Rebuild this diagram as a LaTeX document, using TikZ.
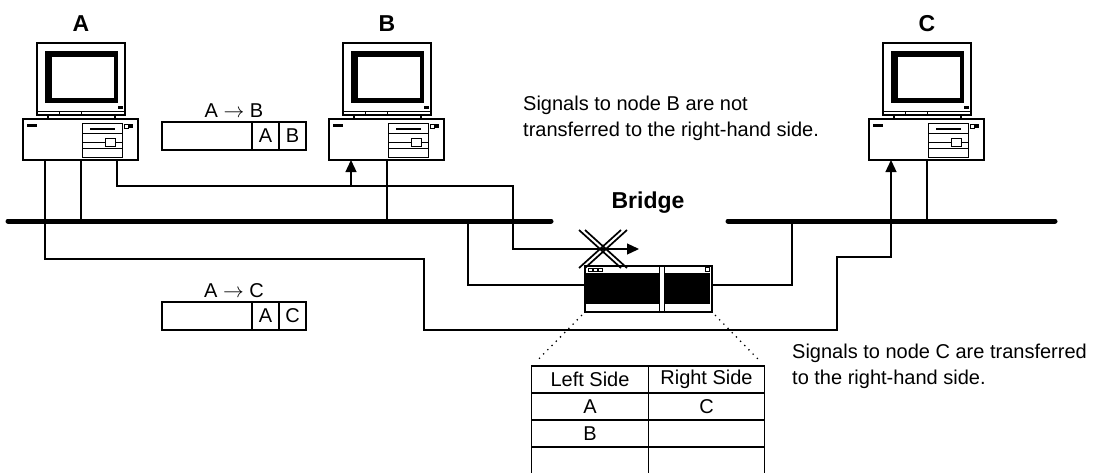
\documentclass[tikz,border=0pt]{standalone}
\usepackage{fontspec}
\setmainfont{Liberation Sans}
\usetikzlibrary{arrows.meta, positioning, calc}

% desktop computer: base unit with a monitor on top, origin at the base's top left
\tikzset{
  pc/.pic={
    \draw[line width=1.1pt] (0,0) rectangle (115,41);
    \fill (4,5) rectangle (14,8);
    \draw[line width=0.8pt] (59,4) rectangle (99,38);
    \draw[line width=0.8pt] (59,14) -- (99,14) (59,23) -- (99,23) (59,29) -- (99,29);
    \fill (67,9) rectangle (92,11);
    \draw[line width=0.8pt, fill=white] (82,19) rectangle (92,27);
    \draw[line width=0.8pt] (101,5) rectangle (105,9);
    \fill (106,5) rectangle (110,9);
    \draw[line width=1.1pt] (14,-76) rectangle (102,-4);
    \draw[line width=0.8pt] (14,-8) -- (102,-8) (36,-8) -- (36,-4) (58,-8) -- (58,-4);
    \draw[line width=1.1pt] (25,-4) -- (25,0) (92,-4) -- (92,0);
    \fill (22,-68) rectangle (95,-16);
    \fill[white] (29,-62) rectangle (91,-21);
    \fill (95,-13) rectangle (100,-10);
    \coordinate (-p1) at (22,41);
    \coordinate (-p2) at (58,41);
    \coordinate (-p3) at (94,41);
    \coordinate (-top) at (58,-76);
  },
}

\begin{document}
\begin{tikzpicture}[x=1pt, y=-1pt, >={Triangle[length=12pt,width=11pt]},
  every node/.style={font=\fontsize{20}{24}\selectfont},
  wire/.style={line width=1.3pt},
  bus/.style={line width=5pt, line cap=round},
  lbl/.style={font=\fontsize{23}{26}\selectfont\bfseries},
  pkt/.style={draw, line width=1.2pt, minimum height=28pt, inner sep=0pt, outer sep=0pt},
  cell/.style={draw, line width=1.2pt, minimum width=116.5pt, minimum height=27pt, inner sep=0pt, outer sep=0pt},
  note/.style={align=left, anchor=west, inner sep=0pt, font=\fontsize{20}{26}\selectfont},
  dots/.style={line width=1.8pt, line cap=round, dash pattern=on 0pt off 6pt}]
\useasboundingbox (0,0) rectangle (1095,472);

% the three stations
\pic (pcA) at (23,119) {pc};
\pic (pcB) at (329,119) {pc};
\pic (pcC) at (869,119) {pc};
\node[lbl, above=8pt of pcA-top] (labA) {A};
\node[lbl, above=8pt of pcB-top] (labB) {B};
\node[lbl, above=8pt of pcC-top] (labC) {C};

% two bus segments
\coordinate (busLw) at (8,221);
\coordinate (busLe) at (551,221);
\coordinate (busRw) at (728,221);
\coordinate (busRe) at (1055,221);
\draw[bus] (busLw) -- (busLe);
\draw[bus] (busRw) -- (busRe);
\draw[wire] (pcA-p2) -- (pcA-p2 |- busLw);
\draw[wire] (pcB-p2) -- (pcB-p2 |- busLw);
\draw[wire] (pcC-p2) -- (pcC-p2 |- busRw);

% bridge box
\node[draw, line width=1.3pt, minimum width=127pt, minimum height=46pt, inner sep=0pt] (bridge) at (648.5,289) {};
\begin{scope}[shift={(bridge.north west)}]
  \fill (1,8) rectangle (75,39);
  \fill (80,8) rectangle (126,39);
  \draw[line width=1pt] (75,0) -- (75,46) (80,0) -- (80,46);
  \draw[line width=0.7pt] (4,3) rectangle (8,6) (9,3) rectangle (13,6) (14,3) rectangle (18,6);
  \draw[line width=0.7pt] (121,2) rectangle (125,6);
\end{scope}
\node[lbl] (brLbl) at (648,203) {Bridge};
\coordinate (brL) at (468,221);
\coordinate (brR) at (792,221);
\draw[wire] ($(bridge.west)+(0,-4)$) -| (brL);
\draw[wire] ($(bridge.east)+(0,-4)$) -| (brR);

% A -> B: reaches B, blocked at the bridge
\coordinate (hiRun) at (513,186);
\coordinate (blk) at (639,249);
\draw[wire, ->] (pcA-p3) |- (hiRun) |- (blk);
\draw[wire, ->] (pcB-p1 |- hiRun) -- (pcB-p1);
\coordinate (xm) at (603,249);
\foreach \d in {-3,3} {
  \draw[line width=1.7pt] ($(xm)+(\d,0)+(-21,-19)$) -- ++(42,38);
  \draw[line width=1.7pt] ($(xm)+(\d,0)+(21,-19)$) -- ++(-42,38);
}

% A -> C: passed through to the right segment
\coordinate (loL) at (424,259);
\coordinate (loM) at (837,330);
\coordinate (loR) at (837,257);
\draw[wire, ->] (pcA-p1) |- (loL) |- (loM) -- (loR) -| (pcC-p1);

% frames
\node[pkt, minimum width=90pt] (abBody) at (207,136) {};
\node[pkt, minimum width=27pt, right=0pt of abBody] (abSrc) {A};
\node[pkt, minimum width=27pt, right=0pt of abSrc] (abDst) {B};
\node[above=1pt] (abLbl) at ($(abBody.north west)!0.5!(abDst.north east)$) {A $\rightarrow$ B};
\node[pkt, minimum width=90pt] (acBody) at (207,316) {};
\node[pkt, minimum width=27pt, right=0pt of acBody] (acSrc) {A};
\node[pkt, minimum width=27pt, right=0pt of acSrc] (acDst) {C};
\node[above=1pt] (acLbl) at ($(acBody.north west)!0.5!(acDst.north east)$) {A $\rightarrow$ C};

% bridge address table
\node[cell] (c11) at (590,379.5) {Left Side};
\node[cell, right=0pt of c11] (c12) {Right Side};
\node[cell, below=0pt of c11] (c21) {A};
\node[cell, right=0pt of c21] (c22) {C};
\node[cell, below=0pt of c21] (c31) {B};
\node[cell, right=0pt of c31] (c32) {};
\node[cell, below=0pt of c31] (c41) {};
\node[cell, right=0pt of c41] (c42) {};
\draw[dots, shorten <=4pt, shorten >=6pt] (bridge.south west) -- (c11.north west);
\draw[dots, shorten <=4pt, shorten >=6pt] (bridge.south east) -- (c12.north east);

% notes
\node[note] (noteB) at (523,118) {Signals to node B are not\\transferred to the right-hand side.};
\node[note] (noteC) at (792,366) {Signals to node C are transferred\\to the right-hand side.};
\end{tikzpicture}
\end{document}
